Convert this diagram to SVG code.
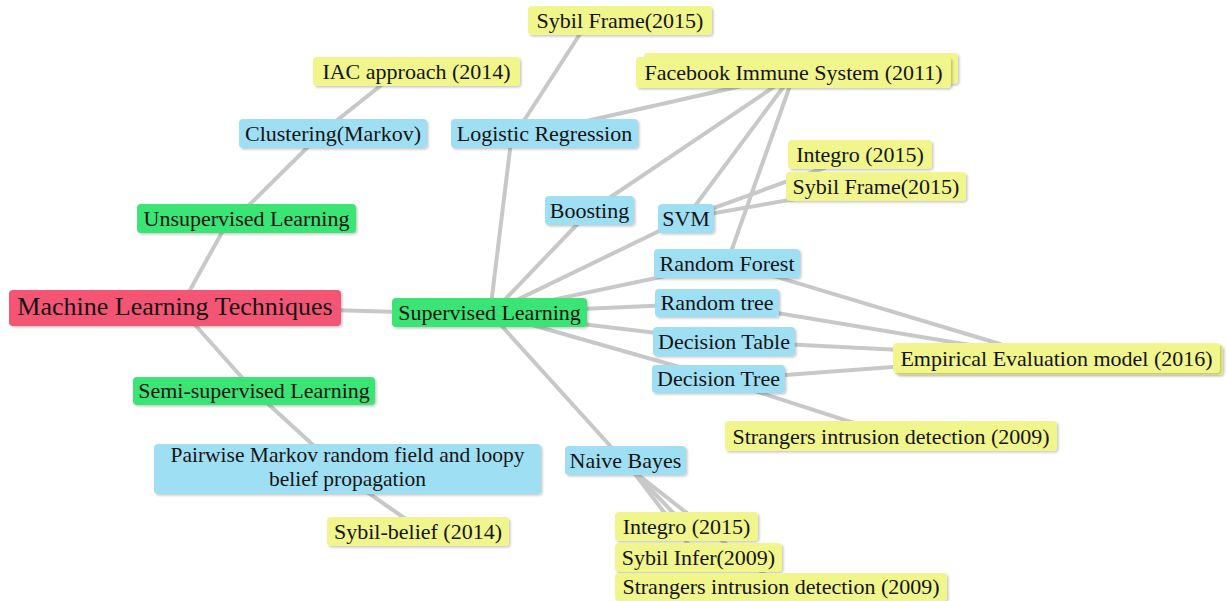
<svg xmlns="http://www.w3.org/2000/svg" width="1227" height="601" viewBox="0 0 1227 601">
<defs>
<filter id="sh" x="-5%" y="-20%" width="110%" height="150%">
<feDropShadow dx="1.5" dy="1.5" stdDeviation="1" flood-color="#000" flood-opacity="0.22"/>
</filter>
</defs>
<style>
.c line{stroke:#c8c8c8;stroke-width:4;stroke-linecap:round;fill:none}
rect{filter:url(#sh)}
.r{fill:#f45474}
.g{fill:#3ae575}
.b{fill:#9fdff4}
.y{fill:#f0f58c}
text{font-family:"Liberation Serif","Times New Roman",serif;font-size:22px;fill:#141414;text-anchor:middle}
.big{font-size:26px}
.sm{font-size:21.5px}
</style>
<rect width="1227" height="601" fill="#ffffff" style="filter:none"/>
<g class="c" id="connectors">
<line x1="330" y1="310" x2="400" y2="312"/>
<line x1="180" y1="308" x2="230" y2="218"/>
<line x1="236" y1="218" x2="322" y2="133"/>
<line x1="321" y1="133" x2="399" y2="71"/>
<line x1="180" y1="308" x2="254" y2="391"/>
<line x1="254" y1="391" x2="335" y2="465"/>
<line x1="334" y1="469" x2="423" y2="531"/>
<line x1="490" y1="313" x2="512" y2="133"/>
<line x1="516" y1="133" x2="589" y2="20"/>
<line x1="560" y1="127" x2="790" y2="75"/>
<line x1="590" y1="211" x2="790" y2="76"/>
<line x1="490" y1="315" x2="590" y2="211"/>
<line x1="490" y1="313" x2="686" y2="218"/>
<line x1="686" y1="218" x2="790" y2="78"/>
<line x1="686" y1="218" x2="860" y2="155"/>
<line x1="686" y1="218" x2="876" y2="185"/>
<line x1="727" y1="263" x2="792" y2="80"/>
<line x1="490" y1="313" x2="727" y2="263"/>
<line x1="490" y1="313" x2="717" y2="303"/>
<line x1="490" y1="313" x2="724" y2="341"/>
<line x1="490" y1="313" x2="718" y2="378"/>
<line x1="490" y1="313" x2="632" y2="470"/>
<line x1="632" y1="470" x2="686" y2="526"/>
<line x1="632" y1="470" x2="698" y2="557"/>
<line x1="632" y1="470" x2="781" y2="587"/>
<line x1="727" y1="262" x2="1000" y2="344"/>
<line x1="717" y1="303" x2="1000" y2="350"/>
<line x1="724" y1="341" x2="1000" y2="355"/>
<line x1="718" y1="380" x2="1000" y2="359"/>
<line x1="718" y1="379" x2="891" y2="435"/>
</g>
<g id="root"><rect class="r" x="9" y="290" width="332" height="36" rx="4"/><text class="big" x="175" y="315">Machine Learning Techniques</text></g>
<g id="supervised"><rect class="g" x="392" y="298" width="195" height="29" rx="4"/><text x="489.5" y="320">Supervised Learning</text></g>
<g id="unsupervised"><rect class="g" x="137" y="204" width="219" height="29" rx="4"/><text x="246.5" y="226">Unsupervised Learning</text></g>
<g id="semi"><rect class="g" x="133" y="377" width="242" height="28" rx="4"/><text x="254" y="398">Semi-supervised Learning</text></g>
<g id="clustering"><rect class="b" x="239" y="119" width="188" height="29" rx="4"/><text x="333" y="141">Clustering(Markov)</text></g>
<g id="iac"><rect class="y" x="313" y="57" width="207" height="29" rx="4"/><text x="416.5" y="79">IAC approach (2014)</text></g>
<g id="pairwise"><rect class="b" x="154" y="444" width="387" height="50" rx="4"/><text class="sm" x="347.5" y="462">Pairwise Markov random field and loopy</text><text class="sm" x="347.5" y="486">belief propagation</text></g>
<g id="sybilbelief"><rect class="y" x="327" y="517" width="182" height="29" rx="4"/><text x="418" y="539">Sybil-belief (2014)</text></g>
<g id="logistic"><rect class="b" x="451" y="119" width="187" height="29" rx="4"/><text x="544.5" y="141">Logistic Regression</text></g>
<g id="sybilframe1"><rect class="y" x="528" y="6" width="184" height="29" rx="4"/><text x="620" y="28">Sybil Frame(2015)</text></g>
<g id="facebook"><rect class="y" x="644" y="53" width="314" height="31" rx="4"/><rect class="y" x="636" y="57" width="315" height="31" rx="4"/><text x="793.5" y="80">Facebook Immune System (2011)</text></g>
<g id="boosting"><rect class="b" x="545" y="196" width="89" height="29" rx="4"/><text x="589.5" y="218">Boosting</text></g>
<g id="svm"><rect class="b" x="658" y="204" width="56" height="29" rx="4"/><text x="686" y="226">SVM</text></g>
<g id="integro1"><rect class="y" x="788" y="140" width="144" height="29" rx="4"/><text x="860" y="162">Integro (2015)</text></g>
<g id="sybilframe2"><rect class="y" x="786" y="172" width="180" height="29" rx="4"/><text x="876" y="194">Sybil Frame(2015)</text></g>
<g id="randomforest"><rect class="b" x="654" y="249" width="146" height="29" rx="4"/><text x="727" y="271">Random Forest</text></g>
<g id="randomtree"><rect class="b" x="655" y="289" width="124" height="28" rx="4"/><text x="717" y="310">Random tree</text></g>
<g id="decisiontable"><rect class="b" x="653" y="327" width="142" height="29" rx="4"/><text x="724" y="349">Decision Table</text></g>
<g id="decisiontree"><rect class="b" x="652" y="365" width="133" height="28" rx="4"/><text x="718.5" y="386">Decision Tree</text></g>
<g id="empirical"><rect class="y" x="896" y="345" width="327" height="30" rx="4"/><rect class="y" x="893" y="343" width="327" height="30" rx="4"/><text x="1056.5" y="366">Empirical Evaluation model (2016)</text></g>
<g id="strangers1"><rect class="y" x="725" y="421" width="332" height="30" rx="4"/><text x="891" y="444">Strangers intrusion detection (2009)</text></g>
<g id="naivebayes"><rect class="b" x="565" y="446" width="121" height="29" rx="4"/><text x="625.5" y="468">Naive Bayes</text></g>
<g id="integro2"><rect class="y" x="615" y="512" width="143" height="29" rx="4"/><text x="686.5" y="534">Integro (2015)</text></g>
<g id="sybilinfer"><rect class="y" x="615" y="543" width="167" height="29" rx="4"/><text x="698.5" y="565">Sybil Infer(2009)</text></g>
<g id="strangers2"><rect class="y" x="615" y="573" width="332" height="28" rx="4"/><text x="781" y="594">Strangers intrusion detection (2009)</text></g>
</svg>
